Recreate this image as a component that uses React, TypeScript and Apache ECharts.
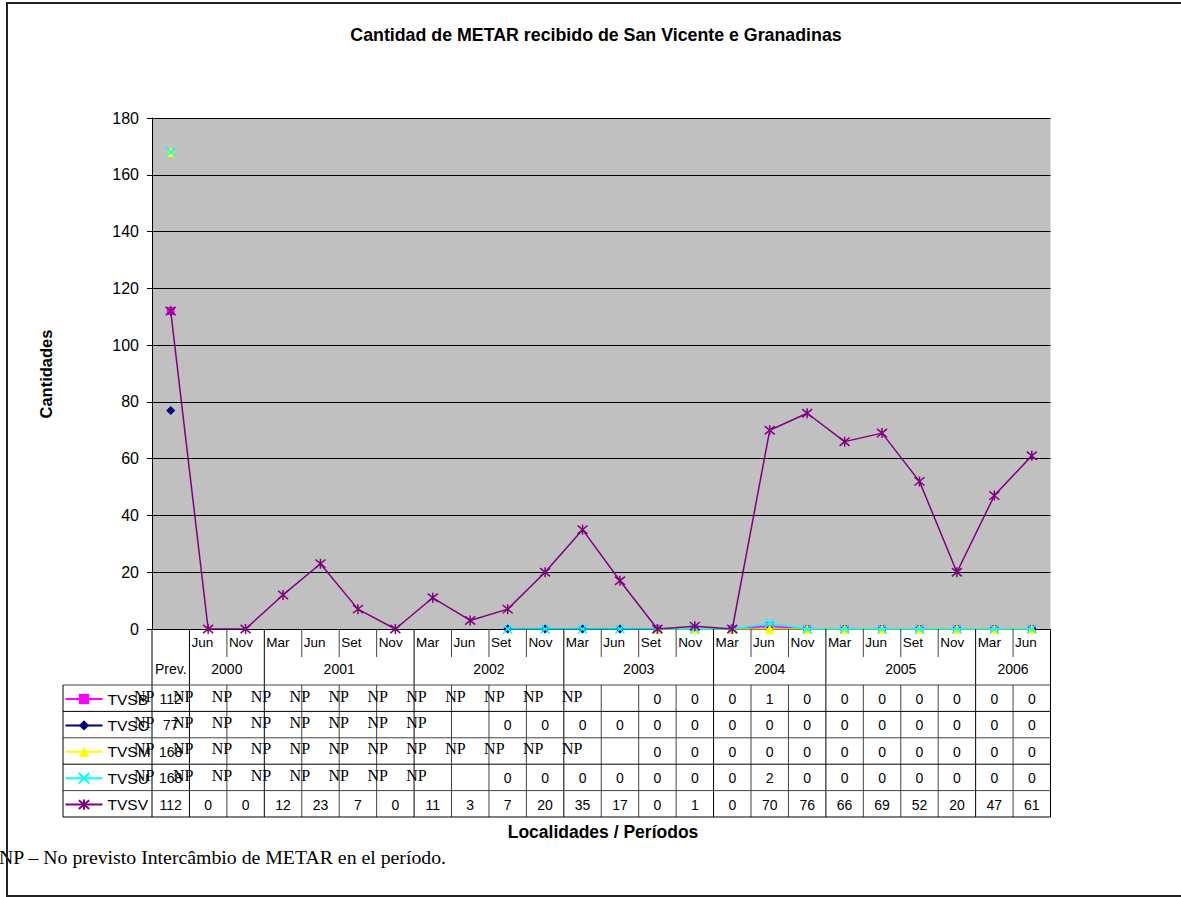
import React, { useEffect, useRef } from "react";
import * as echarts from "echarts";

// ---------- data ----------
const months = ["", "Jun", "Nov", "Mar", "Jun", "Set", "Nov", "Mar", "Jun", "Set", "Nov", "Mar", "Jun", "Set", "Nov", "Mar", "Jun", "Nov", "Mar", "Jun", "Set", "Nov", "Mar", "Jun"];
const yearLabels = ["Prev.", "2000", "2001", "2002", "2003", "2004", "2005", "2006"];
const yearSpans = [1, 2, 4, 4, 4, 3, 4, 2];
const seriesNames = ["TVSB", "TVSC", "TVSM", "TVSU", "TVSV"];
const N = null;
const tvsb = [112, N, N, N, N, N, N, N, N, N, N, N, N, 0, 0, 0, 1, 0, 0, 0, 0, 0, 0, 0];
const tvsc = [77, N, N, N, N, N, N, N, N, 0, 0, 0, 0, 0, 0, 0, 0, 0, 0, 0, 0, 0, 0, 0];
const tvsm = [168, N, N, N, N, N, N, N, N, N, N, N, N, 0, 0, 0, 0, 0, 0, 0, 0, 0, 0, 0];
const tvsu = [168, N, N, N, N, N, N, N, N, 0, 0, 0, 0, 0, 0, 0, 2, 0, 0, 0, 0, 0, 0, 0];
const tvsv = [112, 0, 0, 12, 23, 7, 0, 11, 3, 7, 20, 35, 17, 0, 1, 0, 70, 76, 66, 69, 52, 20, 47, 61];
const seriesData = [tvsb, tvsc, tvsm, tvsu, tvsv];
const yTicks = { min: 0, max: 180, interval: 20 };

// ---------- styles ----------
const SANS = "'Liberation Sans', Arial, sans-serif";
const SERIF = "'Liberation Serif', 'Times New Roman', serif";
const colors = ["#FF00FF", "#000080", "#FFFF00", "#00FFFF", "#800080"];
const symbols = [
  "rect",
  "diamond",
  "triangle",
  "path://M0,0L10,10M10,0L0,10",
  "path://M0,0L10,10M10,0L0,10M5,-1L5,11",
];
const symbolSizes = [8, 9, 10, 9, 10];

const GL = 152, GT = 118, GR = 1050.5, GB = 629;
const NC = 24;
const CW = (GR - GL) / NC;
const MONTH_B = 657, YEAR_B = 685, ROW_H = 26.4, TABLE_L = 63;
const NP_X0 = 134, NP_STEP = 38.9;

function buildGraphics() {
  const els: any[] = [];
  const line = (x1: number, y1: number, x2: number, y2: number, c = "#000", w = 1) =>
    els.push({ type: "line", silent: true, shape: { x1, y1, x2, y2 }, style: { stroke: c, lineWidth: w }, z: 50 });
  const text = (t: string, x: number, y: number, o: any = {}) =>
    els.push({
      type: "text", silent: true, x, y, z: 60,
      style: { text: t, fill: "#000", font: `${o.weight || "normal"} ${o.size || 14}px ${o.family || SANS}`, textAlign: o.align || "center", textVerticalAlign: "middle" },
      rotation: o.rotation || 0,
    });

  // title & axis names
  text("Cantidad de METAR recibido de San Vicente e Granadinas", 596, 35, { weight: "bold", size: 17.8 });
  text("Cantidades", 46, 374, { weight: "bold", size: 16.5, rotation: Math.PI / 2 });
  text("Localidades / Períodos", 603, 832, { weight: "bold", size: 17.5 });
  text("NP – No previsto Intercâmbio de METAR en el período.", -1, 857, { size: 19.8, family: SERIF, align: "left" });

  // outer border
  els.push({ type: "rect", silent: true, shape: { x: 7, y: 3, width: 1200, height: 893 }, style: { fill: "none", stroke: "#222", lineWidth: 2 }, z: 70 });

  const tableBottom = YEAR_B + ROW_H * seriesNames.length;
  // year boundaries
  const yb = new Set<number>();
  let acc = 0;
  yb.add(0);
  yearSpans.forEach((s) => { acc += s; yb.add(acc); });
  for (let k = 0; k <= NC; k++) {
    const x = GL + k * CW;
    if (yb.has(k)) line(x, GB, x, tableBottom);
    else { line(x, GB, x, MONTH_B, "#444"); line(x, YEAR_B, x, tableBottom, "#444"); }
  }
  for (let r = 0; r <= seriesNames.length; r++) {
    const y = YEAR_B + r * ROW_H;
    line(TABLE_L, y, GR, y, r % 2 ? "#000" : "#444");
  }
  line(TABLE_L, YEAR_B, TABLE_L, tableBottom);

  // month labels
  months.forEach((m, i) => { if (m) text(m, GL + i * CW + 2, 642, { size: 13.5, align: "left" }); });
  // year labels
  acc = 0;
  yearLabels.forEach((y, j) => {
    const c = GL + (acc + yearSpans[j] / 2) * CW;
    acc += yearSpans[j];
    text(y, c, 669, { size: 14 });
  });
  // table values
  seriesData.forEach((d, r) => {
    const top = YEAR_B + r * ROW_H;
    d.forEach((v, i) => {
      if (v !== null) text(String(v), GL + (i + 0.5) * CW, top + 14, { size: 14 });
      else text("NP", NP_X0 + (i - 1) * NP_STEP, top + 11, { size: 16, family: SERIF, align: "left" });
    });
  });
  return els;
}

export default function App() {
  const ref = useRef<HTMLDivElement>(null);
  useEffect(() => {
    if (!ref.current) return;
    const chart = echarts.init(ref.current, undefined, { renderer: "svg" });
    const cats = months.map((m, i) => `${i}-${m}`);
    chart.setOption({
      animation: false,
      backgroundColor: "#fff",
      textStyle: { fontFamily: SANS },
      grid: { left: GL, top: GT, width: GR - GL, height: GB - GT, show: true, backgroundColor: "#C0C0C0", borderWidth: 0 },
      legend: {
        data: seriesNames,
        orient: "vertical",
        left: 64.5,
        top: 691,
        padding: 0,
        itemWidth: 37,
        itemHeight: 13,
        itemGap: 10.4,
        textStyle: { fontSize: 15.5, color: "#000", fontFamily: SANS, lineHeight: 14 },
        selectedMode: false,
      },
      xAxis: {
        type: "category",
        data: cats,
        boundaryGap: true,
        axisLine: { show: true, lineStyle: { color: "#000", width: 1 } },
        axisTick: { show: false },
        axisLabel: { show: false },
        splitLine: { show: false },
      },
      yAxis: {
        type: "value",
        min: yTicks.min,
        max: yTicks.max,
        interval: yTicks.interval,
        axisLine: { show: true, lineStyle: { color: "#000", width: 1 } },
        axisTick: { show: true, length: 5, lineStyle: { color: "#000" } },
        axisLabel: { fontSize: 16, color: "#000", margin: 13, fontFamily: SANS },
        splitLine: { show: true, lineStyle: { color: "#000", width: 1 } },
      },
      series: seriesNames.map((name, s) => ({
        name,
        type: "line",
        data: seriesData[s],
        symbol: symbols[s],
        symbolSize: symbolSizes[s],
        showSymbol: true,
        showAllSymbol: true,
        connectNulls: false,
        lineStyle: { color: colors[s], width: 1.5 },
        itemStyle: s >= 3
          ? { color: colors[s], borderColor: colors[s], borderWidth: 1.5 }
          : { color: colors[s], borderWidth: 0 },
        z: 2 + s,
      })),
      graphic: buildGraphics(),
    });
    return () => chart.dispose();
  }, []);
  return <div ref={ref} style={{ position: "fixed", left: 0, top: 0, width: 1181, height: 897 }} />;
}
